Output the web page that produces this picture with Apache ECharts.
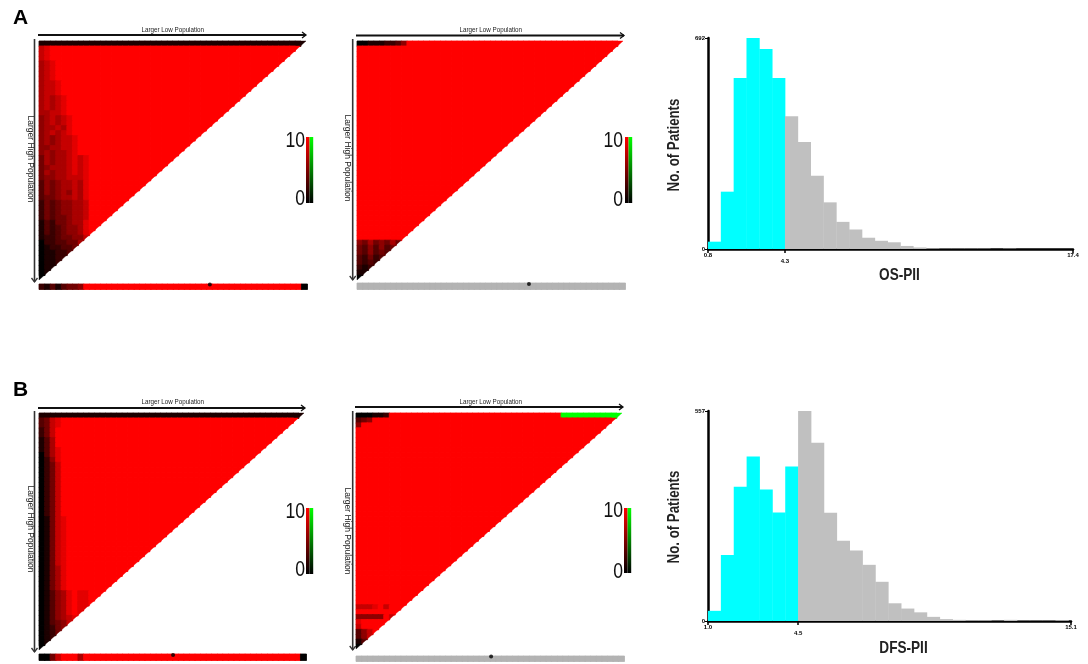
<!DOCTYPE html>
<html>
<head>
<meta charset="utf-8">
<script src="https://cdn.jsdelivr.net/npm/echarts@6/dist/echarts.min.js"></script>
<style>
html, body { margin: 0; padding: 0; background: #fff; }
#chart { width: 1088px; height: 664px; }
</style>
</head>
<body>
<div id="chart"></div>
<script>
// ---------------------------------------------------------------------------
// X-tile cut-point maps. One string per row (row 0 = top), one character per
// cell: '0'..'9' = red-scale level (0 black .. 9 full red), 'f'/'g' = green.
// A character followed by '*' repeats up to the row length; characters after
// the '*' close the row.
// ---------------------------------------------------------------------------
const CUTS = 48;

const osLeftRows = [
  '1*', '789*', '789*', '789*', '6789*', '6789*', '6789*', '6789*',
  '67789*', '67789*', '67789*', '676789*', '676789*', '676789*', '667789*',
  '5676789*', '5676789*', '5667689*', '5676789*', '56567789*', '56567789*',
  '55667789*', '56566789*', '4656678789*', '4656678789*', '4566678789*',
  '4656678789*', '4556677789*', '3545667689*', '3545667689*', '3545657689*',
  '3445667689*', '2434556679*', '2434556679*', '2434556679*', '2434456679*',
  '1324456689*', '1323455689*', '1323455689*',
  '122344557', '02233446', '0122334', '011223', '01122', '0112', '011', '01', '0'
];

const osMidRows = [
  '0011122359*',
  '9*', '9*', '9*', '9*', '9*', '9*', '9*', '9*', '9*', '9*',
  '9*', '9*', '9*', '9*', '9*', '9*', '9*', '9*', '9*', '9*',
  '9*', '9*', '9*', '9*', '9*', '9*', '9*', '9*', '9*', '9*',
  '9*', '9*', '9*', '9*', '9*', '9*', '9*', '9*', '9*',
  '54645464', '4353534', '435343', '32423', '3232', '212', '11', '0'
];

const dfsLeftRows = [
  '1*', '34789*', '34789*', '2479*', '2479*', '1369*', '1369*', '13689*',
  '03689*', '02589*', '02479*', '02479*', '02479*', '02479*', '02479*',
  '02479*', '02479*', '02479*', '02479*', '02479*', '02479*',
  '014789*', '014789*', '014789*', '014789*', '014789*', '014789*',
  '014789*', '014789*', '014789*', '014789*',
  '014689*', '014689*', '014689*', '014689*', '014689*',
  '0135689889*', '0135689889*', '0135689889*', '0135689889*', '0135689889*',
  '0135678', '013457', '01245', '0124', '012', '01', '0'
];

const dfsMidRows = [
  '0001129*ggggggggggg', '3459*', '59*',
  '9*', '9*', '9*', '9*', '9*', '9*', '9*', '9*', '9*', '9*', '9*', '9*',
  '9*', '9*', '9*', '9*', '9*', '9*', '9*', '9*', '9*', '9*', '9*', '9*',
  '9*', '9*', '9*', '9*', '9*', '9*', '9*', '9*', '9*', '9*', '9*', '9*',
  '7778979*', '9*', '5555597', '899999', '79999', '3579', '357', '13', '0'
];

// Bottom bars and the selected cut point on each
const osLeftStrip = '213134459*0';
const osMidStrip = '0*';
const dfsLeftStrip = '004799969*0';
const dfsMidStrip = '0*';
const osLeftCut = 30.6, osMidCut = 30.8, dfsLeftCut = 24.1, dfsMidCut = 24.2;

// Histograms of the index
const osBinStart = 0.8, osBinWidth = 3.5 / 6, osCutValue = 4.3;
const osCounts = [24, 188, 561, 692, 656, 561, 435, 351, 240, 153, 89, 64, 37, 27,
                  22, 10, 5, 2, 1, 1, 1, 1, 0, 1, 0, 0, 0, 0];
const osTicks = [0.8, 4.3, 17.4];
const osCountTicks = [0, 692];

const dfsBinStart = 1.0, dfsBinWidth = 0.5, dfsCutValue = 4.5;
const dfsCounts = [27, 175, 356, 436, 349, 288, 410, 557, 473, 287, 213, 187, 149, 104,
                   47, 33, 23, 11, 5, 3, 2, 2, 1, 3, 1, 1, 1, 2];
const dfsTicks = [1.0, 4.5, 15.1];
const dfsCountTicks = [0, 557];

// ---------------------------------------------------------------------------
// Layout
// ---------------------------------------------------------------------------
const FONT = 'Liberation Sans, Arial, sans-serif';
const heatBoxes = [[39, 41, 267, 239], [357, 41, 266, 239], [39, 413, 265, 237], [356, 413, 266, 236]];
const bandBoxes = [[39, 284, 268, 5], [357, 283, 268, 6], [39, 654, 267, 6], [356, 656, 268, 5]];
const histBoxes = [[708, 38, 365, 211], [708, 411, 363, 210]];

function expandRow(code, len) {
  const star = code.indexOf('*');
  let s = code;
  if (star >= 0) {
    const head = code.slice(0, star), tail = code.slice(star + 1);
    const n = Math.max(0, len - head.length - tail.length);
    s = head + head.charAt(head.length - 1).repeat(n) + tail;
  }
  return s.slice(0, len).split('');
}
const levelOf = ch => (ch === 'g' ? -10 : ch === 'f' ? -5 : Number(ch) * 10 / 9);

function triangleCells(rows) {
  const out = [];
  rows.forEach((code, r) => {
    const len = CUTS - r;
    expandRow(code, len).forEach((ch, c) => out.push([c, r, levelOf(ch), c === len - 1 ? 1 : 0]));
  });
  return out;
}
function stripCells(code) {
  return expandRow(code, CUTS).map((ch, c) => [c, 0, levelOf(ch), 0]);
}

// Cells: full rectangles, the last cell of every row cut along the diagonal
function renderCell(params, api) {
  const ctr = api.coord([api.value(0), api.value(1)]);
  const sz = api.size([1, 1]);
  const x0 = ctr[0] - sz[0] / 2, y0 = ctr[1] - sz[1] / 2;
  const fill = api.visual('color');
  if (api.value(3)) {
    return { type: 'polygon', shape: { points: [[x0, y0], [x0 + sz[0], y0], [x0, y0 + sz[1]]] },
             style: { fill: fill, stroke: fill, lineWidth: 0.4 } };
  }
  return { type: 'rect', shape: { x: x0, y: y0, width: sz[0] + 0.5, height: sz[1] + 0.5 },
           style: { fill: fill, stroke: fill, lineWidth: 0.8 } };
}

function renderBin(params, api) {
  const a = api.coord([api.value(0), api.value(2)]);
  const b = api.coord([api.value(1), 0]);
  return { type: 'rect', shape: { x: a[0], y: a[1], width: b[0] - a[0] + 0.4, height: b[1] - a[1] },
           style: { fill: api.visual('color') } };
}

const cats = Array.from({ length: CUTS }, (_, i) => String(i));
const option = {
  animation: false,
  backgroundColor: '#fff',
  grid: [], xAxis: [], yAxis: [], series: [],
  visualMap: [],
  graphic: []
};
const coloured = [];

function addGrid(box) {
  option.grid.push({ left: box[0], top: box[1], width: box[2], height: box[3], outerBoundsMode: 'none' });
  return option.grid.length - 1;
}

const panelRows = [osLeftRows, osMidRows, dfsLeftRows, dfsMidRows];
const panelStrips = [osLeftStrip, osMidStrip, dfsLeftStrip, dfsMidStrip];
const panelCuts = [osLeftCut, osMidCut, dfsLeftCut, dfsMidCut];
const panelGreyStrip = [false, true, false, true];

panelRows.forEach((rows, p) => {
  // triangle
  const g = addGrid(heatBoxes[p]);
  const xi = option.xAxis.push({ type: 'category', gridIndex: g, data: cats, show: false }) - 1;
  const yi = option.yAxis.push({ type: 'category', gridIndex: g, data: cats, inverse: true, show: false }) - 1;
  coloured.push(option.series.length);
  option.series.push({ type: 'custom', xAxisIndex: xi, yAxisIndex: yi, renderItem: renderCell,
                       encode: { x: 0, y: 1 }, data: triangleCells(rows), silent: true });
  // bottom bar
  const gb = addGrid(bandBoxes[p]);
  const xb = option.xAxis.push({ type: 'category', gridIndex: gb, data: cats, show: false }) - 1;
  const xv = option.xAxis.push({ type: 'value', gridIndex: gb, min: 0, max: CUTS, show: false }) - 1;
  const yb = option.yAxis.push({ type: 'category', gridIndex: gb, data: ['cut'], show: false }) - 1;
  if (!panelGreyStrip[p]) coloured.push(option.series.length);
  option.series.push({ type: 'custom', xAxisIndex: xb, yAxisIndex: yb, renderItem: renderCell,
                       encode: { x: 0, y: 1 }, data: stripCells(panelStrips[p]), silent: true,
                       itemStyle: { color: '#b3b3b3' } });
  option.series.push({ type: 'scatter', xAxisIndex: xv, yAxisIndex: yb, data: [[panelCuts[p], 0]],
                       symbolSize: 4, symbolOffset: [0, -2], itemStyle: { color: '#000' }, z: 5, silent: true });
});

option.visualMap.push({
  type: 'continuous', show: false, min: -10, max: 10, dimension: 2, seriesIndex: coloured,
  inRange: { color: ['#00ff00', '#000000', '#ff0000'] }
});

// Histograms
function addHistogram(box, start, width, counts, cut, ticks, countTicks) {
  const g = addGrid(box);
  const xi = option.xAxis.push({
    type: 'value', gridIndex: g, min: ticks[0], max: ticks[ticks.length - 1],
    splitLine: { show: false },
    axisLine: { show: true, onZero: false, lineStyle: { color: '#000', width: 2.5 } },
    axisTick: { show: true, customValues: ticks, length: 4, lineStyle: { color: '#000', width: 1.5 } },
    axisLabel: {
      customValues: ticks, margin: 3, fontSize: 6, fontWeight: 'bold', color: '#000', fontFamily: FONT,
      formatter: v => (Math.abs(v - cut) < 1e-9 ? '{lo|' + v.toFixed(1) + '}' : v.toFixed(1)),
      rich: { lo: { padding: [6, 0, 0, 0], fontSize: 6, fontWeight: 'bold', color: '#000', fontFamily: FONT } }
    }
  }) - 1;
  const yi = option.yAxis.push({
    type: 'value', gridIndex: g, min: countTicks[0], max: countTicks[1], interval: countTicks[1],
    splitLine: { show: false },
    axisLine: { show: true, lineStyle: { color: '#000', width: 2.5 } },
    axisTick: { show: true, length: 3, lineStyle: { color: '#000', width: 1 } },
    axisLabel: { margin: 3, fontSize: 6, fontWeight: 'bold', color: '#000', fontFamily: FONT }
  }) - 1;
  const bins = counts.map((n, i) => [start + i * width, start + (i + 1) * width, n]);
  const low = bins.filter(b => b[1] <= cut + 1e-6);
  const high = bins.filter(b => b[1] > cut + 1e-6);
  [[low, '#00ffff'], [high, '#c0c0c0']].forEach(([data, color]) => {
    option.series.push({ type: 'custom', xAxisIndex: xi, yAxisIndex: yi, renderItem: renderBin,
                         encode: { x: [0, 1], y: 2 }, data: data, itemStyle: { color: color },
                         z: 1, silent: true });
  });
}
addHistogram(histBoxes[0], osBinStart, osBinWidth, osCounts, osCutValue, osTicks, osCountTicks);
addHistogram(histBoxes[1], dfsBinStart, dfsBinWidth, dfsCounts, dfsCutValue, dfsTicks, dfsCountTicks);

// ---------------------------------------------------------------------------
// Annotations: panel letters, arrows, arrow captions, colour keys, titles
// ---------------------------------------------------------------------------
const G = option.graphic;
function text(x, y, str, size, opts) {
  opts = opts || {};
  G.push({
    type: 'text', x: x, y: y, rotation: opts.rotation || 0, scaleX: opts.scaleX || 1, silent: true,
    style: { text: str, fontSize: size, fontFamily: FONT, fontWeight: opts.bold ? 'bold' : 'normal',
             fill: opts.color || '#000', align: opts.align || 'center', verticalAlign: 'middle' }
  });
}
function hArrow(x1, x2, y) {
  G.push({ type: 'line', silent: true, shape: { x1: x1, y1: y, x2: x2, y2: y }, style: { stroke: '#111', lineWidth: 2 } });
  G.push({ type: 'polyline', silent: true, shape: { points: [[x2 - 4, y - 3], [x2, y], [x2 - 4, y + 3]] },
           style: { stroke: '#111', lineWidth: 1.3, fill: null } });
}
function vArrow(x, y1, y2) {
  G.push({ type: 'line', silent: true, shape: { x1: x, y1: y1, x2: x, y2: y2 }, style: { stroke: '#333', lineWidth: 1.6 } });
  G.push({ type: 'polyline', silent: true, shape: { points: [[x - 3, y2 - 4], [x, y2], [x + 3, y2 - 4]] },
           style: { stroke: '#333', lineWidth: 1.3, fill: null } });
}
function colourKey(x, y, h, labelX, topY, botY) {
  G.push({ type: 'rect', silent: true, shape: { x: x, y: y, width: 3.6, height: h },
           style: { fill: new echarts.graphic.LinearGradient(0, 0, 0, 1, [{ offset: 0, color: '#ff0000' }, { offset: 1, color: '#000' }]) } });
  G.push({ type: 'rect', silent: true, shape: { x: x + 3.6, y: y, width: 3.6, height: h },
           style: { fill: new echarts.graphic.LinearGradient(0, 0, 0, 1, [{ offset: 0, color: '#00ff00' }, { offset: 1, color: '#000' }]) } });
  text(labelX, topY, '10', 22, { align: 'right', scaleX: 0.8, color: '#111' });
  text(labelX, botY, '0', 22, { align: 'right', scaleX: 0.8, color: '#111' });
}

text(13, 18, 'A', 21, { bold: true, align: 'left' });
text(13, 390, 'B', 21, { bold: true, align: 'left' });

// X-tile frames
hArrow(38, 306, 35);   text(172.8, 29.5, 'Larger Low Population', 8, { scaleX: 0.78, color: '#222' });
hArrow(356, 624, 35.5); text(490.8, 29.5, 'Larger Low Population', 8, { scaleX: 0.78, color: '#222' });
hArrow(38, 305, 408);  text(172.8, 402, 'Larger Low Population', 8, { scaleX: 0.78, color: '#222' });
hArrow(355, 623, 407); text(490.8, 402, 'Larger Low Population', 8, { scaleX: 0.78, color: '#222' });

vArrow(34.5, 39, 282);  text(30.5, 159, 'Larger High Population', 8.5, { rotation: -Math.PI / 2, color: '#222' });
vArrow(352.7, 39, 280); text(347, 158, 'Larger High Population', 8.5, { rotation: -Math.PI / 2, color: '#222' });
vArrow(34.5, 411, 652); text(30.5, 529, 'Larger High Population', 8.5, { rotation: -Math.PI / 2, color: '#222' });
vArrow(352.7, 411, 650); text(347, 531, 'Larger High Population', 8.5, { rotation: -Math.PI / 2, color: '#222' });

colourKey(306, 137, 66, 305, 141, 199);
colourKey(625, 137, 66, 623, 141, 200);
colourKey(306, 508, 66, 305, 512, 570);
colourKey(624, 508, 65, 623, 511, 572);

// Histogram titles
text(674, 145, 'No. of Patients', 17, { bold: true, rotation: Math.PI / 2, scaleX: 0.78, color: '#222' });
text(674, 517, 'No. of Patients', 17, { bold: true, rotation: Math.PI / 2, scaleX: 0.78, color: '#222' });
text(899.5, 275, 'OS-PII', 17, { bold: true, scaleX: 0.8, color: '#222' });
text(903.5, 648, 'DFS-PII', 17, { bold: true, scaleX: 0.8, color: '#222' });

const chart = echarts.init(document.getElementById('chart'), null, { renderer: 'canvas' });
chart.setOption(option);
</script>
</body>
</html>
